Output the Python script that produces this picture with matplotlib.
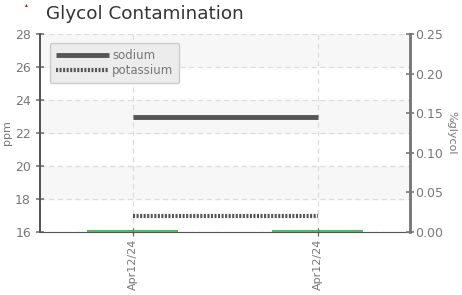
import matplotlib
matplotlib.use("Agg")
import matplotlib.pyplot as plt

categories = ["Apr12/24", "Apr12/24"]
sodium = [23, 23]
potassium = [17, 17]
glycol = [0.0, 0.0]

left_ticks = [16, 18, 20, 22, 24, 26, 28]
right_ticks = [0.00, 0.05, 0.10, 0.15, 0.20, 0.25]

plt.rcParams['font.family'] = ['DejaVu Sans']
fig = plt.figure(figsize=(4.62, 2.95), dpi=100)
ax = fig.add_axes([40/462, 1-232/295, 370/462, 198/295])
ax2 = ax.twinx()

x = list(range(len(categories)))
ax.set_xlim(-0.5, len(categories) - 0.5)
ax.set_ylim(16, 28)
ax2.set_ylim(0, 0.25)

# alternating bands
for lo in [18, 22, 26]:
    ax.axhspan(lo, lo + 2, color="#f7f7f7", zorder=0)
ax.set_yticks(left_ticks)
ax.set_xticks(x)
ax.grid(True, color="#dddddd", linestyle=(0, (4, 3)), linewidth=0.9)
ax.set_axisbelow(True)

ax.plot(x, sodium, color="#555555", lw=3.5, solid_capstyle="butt", label="sodium", zorder=3)
ax.plot(x, potassium, color="#555555", lw=3.0, linestyle=(0, (0.5, 0.35)), label="potassium", zorder=3)

for xi, g in zip(x, glycol):
    ax2.hlines(g + 0.0012, xi - 0.245, xi + 0.245, color="#3cb44b", lw=1.3, zorder=5, clip_on=False)

tc = "#777777"
ax.set_xticklabels(categories, rotation=90, color=tc, fontsize=8)
ax.tick_params(axis="y", colors=tc, labelsize=9, direction="inout", length=6, width=1.2)
ax.tick_params(axis="x", colors="#555555", labelcolor=tc, direction="inout", length=6, pad=2)
ax2.set_yticks(right_ticks)
ax2.set_yticklabels([f"{v:.2f}" for v in right_ticks])
ax2.tick_params(axis="y", colors=tc, labelsize=9, direction="inout", length=6, width=1.2, pad=1)

for a in (ax, ax2):
    a.spines["top"].set_visible(False)
    a.spines["left"].set_color("#555555")
    a.spines["right"].set_color("#777777")
    a.spines["bottom"].set_color("#555555")
    a.spines["left"].set_linewidth(1.3)
    a.spines["right"].set_linewidth(1.8)
ax2.spines["bottom"].set_visible(False)

ax.set_ylabel("ppm", color=tc, fontsize=8, labelpad=2)
ax2.set_ylabel("%glycol", color=tc, fontsize=8, rotation=270, labelpad=9)

fig.text(46/462, 1-14/295, "Glycol Contamination", fontsize=13.2, color="#333333", va="center", ha="left")
fig.text(26/462, 1-5/295, "▴", fontsize=4, color="#cc0000", ha="center", va="center")

leg = ax.legend(loc="upper left", bbox_to_anchor=(0.01, 0.985), frameon=True, fancybox=True,
                facecolor="#ececec", edgecolor="#cccccc", fontsize=8.5, labelcolor="#777777",
                handlelength=4.5, handletextpad=0.3, borderpad=0.5, labelspacing=0.2)
leg.get_frame().set_alpha(1)
ax.set_zorder(2)
ax2.set_zorder(3)
ax2.patch.set_visible(False)
ax.patch.set_facecolor("white")

fig.savefig("out.png", dpi=100)
